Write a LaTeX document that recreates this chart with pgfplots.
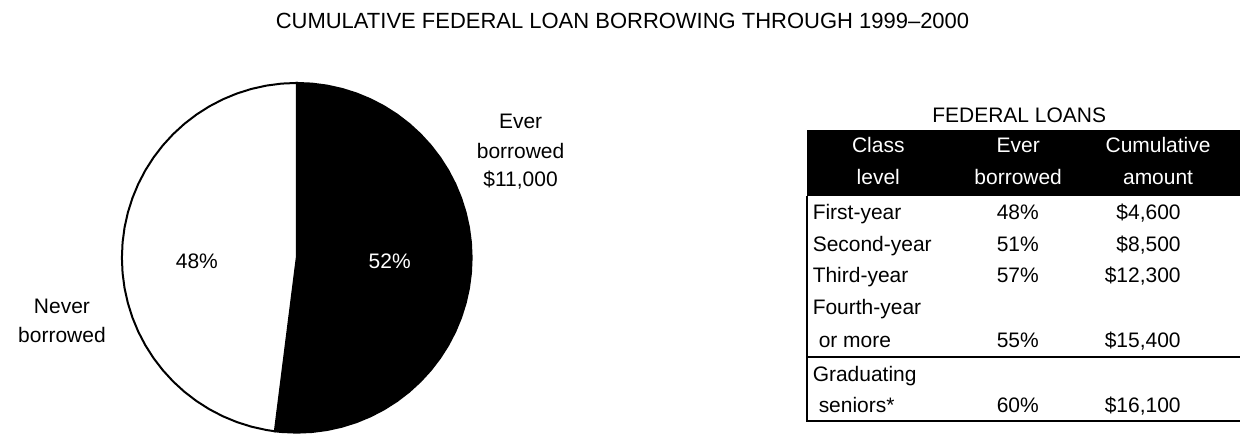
\documentclass[border=0pt]{standalone}
\usepackage{pgfplots}
\pgfplotsset{compat=1.18}
\usepgfplotslibrary{polar}
\usepackage{fontspec}
\setmainfont{Liberation Sans}
\begin{document}
\begin{tikzpicture}[font=\fontsize{10.5}{12}\selectfont]
\begin{scope}[x=0.5pt,y=-0.5pt]
\useasboundingbox (0,0) rectangle (1241,434);
\coordinate (piecenter) at (297,258);
\end{scope}

% pie: 52% ever borrowed (black), 48% never borrowed (white), clockwise from top
\begin{polaraxis}[
    at={(piecenter)}, anchor=center,
    scale only axis, width=175pt, height=175pt,
    xmin=0, xmax=360, ymin=0, ymax=1,
    hide axis, clip=false,
  ]
  \addplot[fill=black, draw=black, line width=1pt] coordinates {
    (0,0) (90,1) (85,1) (80,1) (75,1) (70,1) (65,1) (60,1) (55,1) (50,1)
    (45,1) (40,1) (35,1) (30,1) (25,1) (20,1) (15,1) (10,1) (5,1) (0,1)
    (355,1) (350,1) (345,1) (340,1) (335,1) (330,1) (325,1) (320,1) (315,1)
    (310,1) (305,1) (300,1) (295,1) (290,1) (285,1) (280,1) (275,1) (270,1)
    (265,1) (262.8,1) (0,0)
  };
  \addplot[fill=white, draw=black, line width=1pt] coordinates {
    (0,0) (262.8,1) (260,1) (255,1) (250,1) (245,1) (240,1) (235,1)
    (230,1) (225,1) (220,1) (215,1) (210,1) (205,1) (200,1) (195,1)
    (190,1) (185,1) (180,1) (175,1) (170,1) (165,1) (160,1) (155,1)
    (150,1) (145,1) (140,1) (135,1) (130,1) (125,1) (120,1) (115,1)
    (110,1) (105,1) (100,1) (95,1) (90,1) (0,0)
  };
\end{polaraxis}

\begin{scope}[x=0.5pt,y=-0.5pt]
% title
\node[anchor=base,inner sep=0pt,font=\fontsize{11}{13}\selectfont] at (623,29)
  {CUMULATIVE FEDERAL LOAN BORROWING THROUGH 1999--2000};

% pie labels
\node[anchor=base,inner sep=0pt] at (197,269) {48\%};
\node[anchor=base,inner sep=0pt,text=white] at (390,269) {52\%};
\node[anchor=base,inner sep=0pt] at (521,129) {Ever};
\node[anchor=base,inner sep=0pt] at (521,159) {borrowed};
\node[anchor=base,inner sep=0pt] at (521,187) {\$11,000};
\node[anchor=base,inner sep=0pt] at (62,314) {Never};
\node[anchor=base,inner sep=0pt] at (62,343) {borrowed};

% table
\node[anchor=base,inner sep=0pt] at (1020,123) {FEDERAL LOANS};
\fill[black] (808,130) rectangle (1241,196);
\begin{scope}[text=white]
  \node[anchor=base,inner sep=0pt] at (879,153) {Class};
  \node[anchor=base,inner sep=0pt] at (879,185) {level};
  \node[anchor=base,inner sep=0pt] at (1019,153) {Ever};
  \node[anchor=base,inner sep=0pt] at (1019,185) {borrowed};
  \node[anchor=base,inner sep=0pt] at (1159,153) {Cumulative};
  \node[anchor=base,inner sep=0pt] at (1159,185) {amount};
\end{scope}
\draw[line width=1pt] (808,196) -- (808,421) -- (1241,421);
\draw[line width=1pt] (808,357) -- (1241,357);

\node[anchor=base west,inner sep=0pt] at (813,220) {First-year};
\node[anchor=base east,inner sep=0pt] at (1040,220) {48\%};
\node[anchor=base east,inner sep=0pt] at (1182,220) {\$4,600};
\node[anchor=base west,inner sep=0pt] at (813,252) {Second-year};
\node[anchor=base east,inner sep=0pt] at (1040,252) {51\%};
\node[anchor=base east,inner sep=0pt] at (1182,252) {\$8,500};
\node[anchor=base west,inner sep=0pt] at (813,283) {Third-year};
\node[anchor=base east,inner sep=0pt] at (1040,283) {57\%};
\node[anchor=base east,inner sep=0pt] at (1182,283) {\$12,300};
\node[anchor=base west,inner sep=0pt] at (813,315) {Fourth-year};
\node[anchor=base west,inner sep=0pt] at (819,348) {or more};
\node[anchor=base east,inner sep=0pt] at (1040,348) {55\%};
\node[anchor=base east,inner sep=0pt] at (1182,348) {\$15,400};
\node[anchor=base west,inner sep=0pt] at (813,382) {Graduating};
\node[anchor=base west,inner sep=0pt] at (819,413) {seniors*};
\node[anchor=base east,inner sep=0pt] at (1040,413) {60\%};
\node[anchor=base east,inner sep=0pt] at (1182,413) {\$16,100};
\end{scope}
\end{tikzpicture}
\end{document}
